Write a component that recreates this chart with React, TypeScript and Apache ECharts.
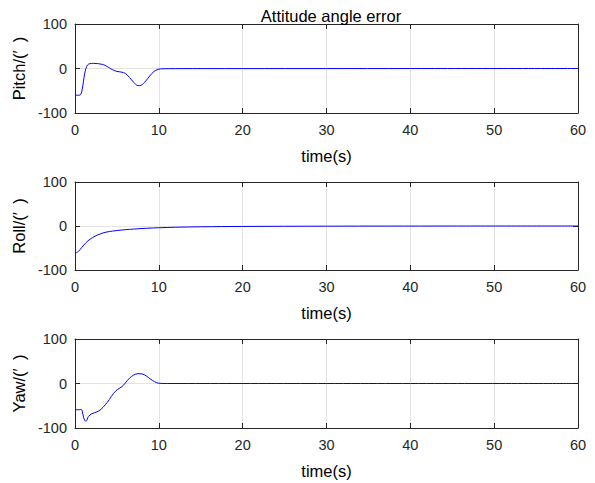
import React, { useEffect, useRef } from "react";
import * as echarts from "echarts";

const titleText = "Attitude angle error";
const xName = "time(s)";
const yNames = ["Pitch/(′\u2002)", "Roll/(′\u2002)", "Yaw/(′\u2002)"];
const xTicks = [0, 10, 20, 30, 40, 50, 60];
const yTicks = [-100, 0, 100];

const pitchData: [number, number][] = [
  [0.1, -60], [0.5, -60], [0.7, -58], [0.85, -48], [1.0, -30], [1.15, -12], [1.3, 0], [1.5, 8],
  [1.8, 11], [2.2, 11.5], [2.7, 11], [3.2, 9.5], [3.6, 7], [4.0, 2.5], [4.5, -3],
  [5.0, -6.5], [5.5, -8], [6.0, -11], [6.5, -20], [7.0, -31], [7.5, -38.5],
  [7.9, -37.5], [8.4, -29], [8.9, -17], [9.4, -7], [9.9, -2], [10.5, -0.6],
  [12, -0.3], [20, -0.2], [40, -0.1], [60, 0],
];

const rollData: [number, number][] = [
  [0.1, -61], [0.4, -58], [0.8, -49], [1.3, -38], [1.8, -30], [2.4, -23], [3.0, -18],
  [3.7, -14], [4.5, -11.5], [5.5, -9.3], [6.5, -7.7], [7.5, -6.3], [8.5, -5.2],
  [10, -4], [12, -2.8], [15, -1.8], [20, -1], [30, -0.4], [45, -0.1], [60, 0],
];

const yawData: [number, number][] = [
  [0.1, -59], [0.5, -59], [0.75, -58], [0.95, -70], [1.15, -83], [1.35, -84], [1.6, -74],
  [2.0, -68], [2.6, -64], [3.1, -58], [3.6, -48], [4.1, -36], [4.6, -22],
  [5.1, -13], [5.6, -7], [6.0, 1], [6.5, 12], [7.0, 19], [7.5, 22], [8.0, 21.5],
  [8.5, 17], [9.0, 10], [9.5, 4], [10, 0.5], [11, 0], [60, 0],
];

const seriesData = [pitchData, rollData, yawData];

const FONT = "'Liberation Sans', Arial, sans-serif";
const AXIS_COLOR = "#262626";
const GRID_COLOR = "#e3e3e3";

export default function App() {
  const ref = useRef<HTMLDivElement>(null);
  useEffect(() => {
    if (!ref.current) return;
    const chart = echarts.init(ref.current, undefined, { renderer: "svg" });
    const tops = [24, 182, 339];
    const heights = [89, 88, 89];
    const grids = tops.map((t, i) => ({ left: 75, right: 17, top: t, height: heights[i] }));
    const xAxes: any[] = [];
    const yAxes: any[] = [];
    const series: any[] = [];
    grids.forEach((_, i) => {
      const common = {
        type: "value",
        min: xTicks[0],
        max: xTicks[xTicks.length - 1],
        interval: xTicks[1] - xTicks[0],
        gridIndex: i,
        axisLine: { show: true, onZero: false, lineStyle: { color: AXIS_COLOR, width: 1 } },
        axisTick: { show: true, inside: true, length: 5, lineStyle: { color: AXIS_COLOR } },
      };
      xAxes.push({
        ...common,
        position: "bottom",
        name: xName,
        nameLocation: "middle",
        nameGap: 34,
        nameTextStyle: { fontFamily: FONT, fontSize: 16.5, color: "#000" },
        axisLabel: { fontFamily: FONT, fontSize: 14.5, color: "#262626", margin: 9 },
        splitLine: { show: true, lineStyle: { color: GRID_COLOR, width: 1 } },
      });
      xAxes.push({
        ...common,
        position: "top",
        axisLabel: { show: false },
        splitLine: { show: false },
      });
      const ycommon = {
        type: "value",
        min: yTicks[0],
        max: yTicks[yTicks.length - 1],
        interval: yTicks[1] - yTicks[0],
        gridIndex: i,
        axisLine: { show: true, onZero: false, lineStyle: { color: AXIS_COLOR, width: 1 } },
        axisTick: { show: true, inside: true, length: 5, lineStyle: { color: AXIS_COLOR } },
      };
      yAxes.push({
        ...ycommon,
        position: "left",
        name: yNames[i],
        nameLocation: "middle",
        nameGap: 45,
        nameTextStyle: { fontFamily: FONT, fontSize: 16.5, color: "#000" },
        axisLabel: { fontFamily: FONT, fontSize: 14.5, color: "#262626", margin: 8 },
        splitLine: { show: true, lineStyle: { color: GRID_COLOR, width: 1 } },
      });
      yAxes.push({
        ...ycommon,
        position: "right",
        axisLabel: { show: false },
        splitLine: { show: false },
      });
      series.push({
        type: "line",
        xAxisIndex: i * 2,
        yAxisIndex: i * 2,
        data: seriesData[i],
        showSymbol: false,
        smooth: 0.35,
        lineStyle: { color: "#0000ff", width: 1 },
      });
    });
    chart.setOption({
      animation: false,
      backgroundColor: "#ffffff",
      title: {
        text: titleText,
        left: 326,
        textAlign: "center",
        top: 2,
        textStyle: { fontFamily: FONT, fontSize: 16.5, fontWeight: "normal", color: "#000" },
      },
      grid: grids,
      xAxis: xAxes,
      yAxis: yAxes,
      series,
    });
    return () => chart.dispose();
  }, []);
  return (
    <div
      ref={ref}
      style={{ position: "fixed", left: 0, top: 0, width: 595, height: 483, background: "#fff" }}
    />
  );
}
